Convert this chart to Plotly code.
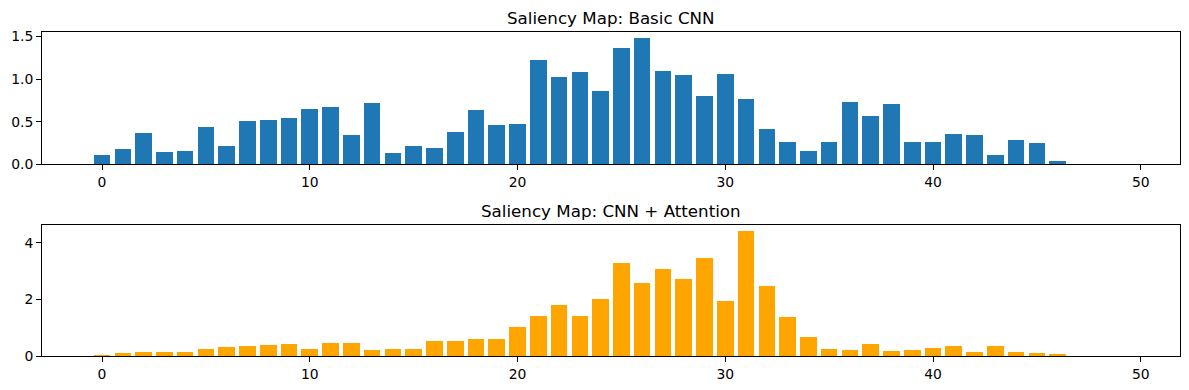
import plotly.graph_objects as go
from plotly.subplots import make_subplots

positions = list(range(50))

basic_cnn = [0.11, 0.18, 0.37, 0.146, 0.157, 0.44, 0.217, 0.51, 0.52, 0.547,
             0.654, 0.677, 0.346, 0.724, 0.134, 0.217, 0.193, 0.382, 0.642, 0.465,
             0.476, 1.22, 1.02, 1.079, 0.866, 1.362, 1.48, 1.09, 1.043, 0.807,
             1.055, 0.77, 0.417, 0.264, 0.157, 0.264, 0.736, 0.571, 0.713, 0.264,
             0.264, 0.358, 0.346, 0.11, 0.287, 0.252, 0.039, 0.0, 0.0, 0.0]

cnn_attention = [0.047, 0.117, 0.152, 0.152, 0.152, 0.258, 0.328, 0.363, 0.40, 0.434,
                 0.258, 0.469, 0.469, 0.223, 0.258, 0.258, 0.54, 0.54, 0.61, 0.61,
                 1.03, 1.42, 1.805, 1.42, 2.016, 3.28, 2.58, 3.07, 2.72, 3.46,
                 1.946, 4.41, 2.47, 1.383, 0.68, 0.258, 0.223, 0.434, 0.188, 0.223,
                 0.293, 0.363, 0.152, 0.363, 0.152, 0.117, 0.082, 0.0, 0.0, 0.0]

titles = ["Saliency Map: Basic CNN", "Saliency Map: CNN + Attention"]
x_ticks = [0, 10, 20, 30, 40, 50]
top_y_ticks = [0.0, 0.5, 1.0, 1.5]
top_y_labels = ["0.0", "0.5", "1.0", "1.5"]
bottom_y_ticks = [0, 2, 4]

# page body has an 8px margin; figure placed at (8, 8)
OFF = 8
W, H = 1189 - OFF, 390 - OFF
L, R, T, B = 42 - OFF, 9, 32 - OFF, 390 - 356.3
ph = H - T - B

def frac(py):
    # py: pixel y in the window
    return (390 - B - py) / ph

fig = make_subplots(rows=2, cols=1)
fig.add_trace(go.Bar(x=positions, y=basic_cnn, width=0.8, marker=dict(color="#1f77b4", line=dict(width=0)),
                     showlegend=False), row=1, col=1)
fig.add_trace(go.Bar(x=positions, y=cnn_attention, width=0.8, marker=dict(color="#FFA500", line=dict(width=0)),
                     showlegend=False), row=2, col=1)

font = dict(family="DejaVu Sans", size=13.9, color="black")
axis_common = dict(showline=True, linecolor="black", linewidth=1.1, mirror=True, ticks="outside",
                   ticklen=4.9, tickwidth=1.1, tickcolor="black", showgrid=False, zeroline=False,
                   tickfont=font)

fig.update_layout(
    width=W, height=H,
    margin=dict(l=L, r=R, t=T, b=B, autoexpand=False),
    paper_bgcolor="white", plot_bgcolor="white",
    bargap=0,
    xaxis=dict(domain=[0, 1], range=[-2.89, 51.89], tickvals=x_ticks, **axis_common),
    xaxis2=dict(domain=[0, 1], range=[-2.89, 51.89], tickvals=x_ticks, **axis_common),
    yaxis=dict(domain=[frac(164.3), 1], range=[0, max(basic_cnn) * 1.05], tickvals=top_y_ticks,
               ticktext=top_y_labels, **axis_common),
    yaxis2=dict(domain=[0, frac(225)], range=[0, max(cnn_attention) * 1.05], tickvals=bottom_y_ticks,
                **axis_common),
)

fig.add_annotation(text=titles[0], xref="paper", yref="paper", x=0.5, y=frac(18), xanchor="center",
                   yanchor="middle", showarrow=False, font=dict(family="DejaVu Sans", size=16.7, color="black"))
fig.add_annotation(text=titles[1], xref="paper", yref="paper", x=0.5, y=frac(211), xanchor="center",
                   yanchor="middle", showarrow=False, font=dict(family="DejaVu Sans", size=16.7, color="black"))

fig.write_html("out.html")
